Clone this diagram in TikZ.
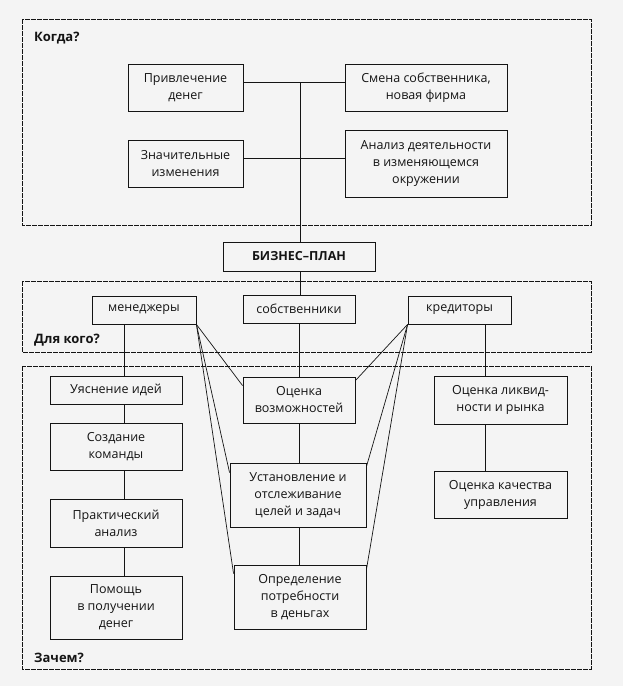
\documentclass[tikz,border=0pt]{standalone}
\usepackage{fontspec}
\setmainfont{Open Sans}
\usetikzlibrary{calc}
\definecolor{bg}{RGB}{244,244,244}
\definecolor{ink}{RGB}{20,20,20}
\tikzset{
  box/.style={draw=ink, line width=0.9pt, fill=bg, inner sep=0pt, align=center,
    font=\fontsize{12.5}{17}\selectfont, text=ink},
  frame/.style={draw=ink, line width=0.8pt, dash pattern=on 5pt off 1pt},
  link/.style={draw=ink, line width=0.9pt},
  fan/.style={draw=ink, line width=0.7pt},
  lbl/.style={font=\bfseries\fontsize{13}{15}\selectfont, text=ink, anchor=base west, inner sep=0pt}
}
\begin{document}
\begin{tikzpicture}[x=1pt,y=-1pt]
\fill[bg] (0,0) rectangle (623,686);
\useasboundingbox (0,0) rectangle (623,686);
% frames
\draw[frame] (22,19) rectangle (591,225);
\draw[frame] (22,281) rectangle (591,352);
\draw[frame] (22,366) rectangle (591,669);
\node[lbl] (l1) at (34,41) {Когда?};
\node[lbl] (l2) at (34,343) {Для кого?};
\node[lbl] (l3) at (34,662) {Зачем?};
% helper coordinates
\coordinate (h1) at (300,82);
\coordinate (h2) at (300,158);
\coordinate (lc) at (124,0);
\coordinate (rc) at (485,0);
% top boxes
\node[box, minimum width=115pt, minimum height=47pt] (priv) at (185.5,87.5) {Привлечение\\денег};
\node[box, minimum width=162pt, minimum height=47pt] (smena) at (426,87.5) {Смена собственника,\\новая фирма};
\node[box, minimum width=115pt, minimum height=47pt] (znach) at (185.5,163.5) {Значительные\\изменения};
\node[box, minimum width=162pt, minimum height=67pt] (analiz) at (426,163.5) {Анализ деятельности\\в изменяющемся\\окружении};
\node[box, minimum width=152pt, minimum height=29pt, font=\bfseries\fontsize{12.5}{15}\selectfont] (bp) at (299,256.5) {БИЗНЕС–ПЛАН};
% who
\node[box, minimum width=104pt, minimum height=28pt] (men) at (144,310) {менеджеры};
\node[box, minimum width=112pt, minimum height=28pt] (sob) at (299,309) {собственники};
\node[box, minimum width=103pt, minimum height=28pt] (kred) at (459.5,310) {кредиторы};
% why
\node[box, minimum width=132pt, minimum height=28pt] (uyas) at (116,390) {Уяснение идей};
\node[box, minimum width=132pt, minimum height=47pt] (sozd) at (116,446.5) {Создание\\команды};
\node[box, minimum width=132pt, minimum height=48pt] (prak) at (116,523) {Практический\\анализ};
\node[box, minimum width=132pt, minimum height=63pt] (pom) at (116,607.5) {Помощь\\в получении\\денег};
\node[box, minimum width=112pt, minimum height=46pt] (ocv) at (299,400) {Оценка\\возможностей};
\node[box, minimum width=136pt, minimum height=64pt] (ust) at (298,495) {Установление и\\отслеживание\\целей и задач};
\node[box, minimum width=132pt, minimum height=64pt] (opr) at (300,597) {Определение\\потребности\\в деньгах};
\node[box, minimum width=133pt, minimum height=48pt] (ocl) at (500.5,400) {Оценка ликвид-\\ности и рынка};
\node[box, minimum width=133pt, minimum height=47pt] (ock) at (500.5,494.5) {Оценка качества\\управления};
% top connectors
\draw[link] (priv.east |- h1) -- (smena.west |- h1);
\draw[link] (znach.east |- h2) -- (analiz.west |- h2);
\draw[link] (h1) -- (h1 |- bp.north);
\draw[link] (bp.south -| h1) -- (sob.north -| h1);
% middle column
\draw[link] (sob.south) -- (sob.south |- ocv.north);
\draw[link] (ocv.south) -- (ocv.south |- ust.north);
\draw[link] (ust.south -| ocv.south) -- (ocv.south |- opr.north);
% left column
\draw[link] (men.south -| lc) -- (uyas.north -| lc);
\draw[link] (uyas.south -| lc) -- (sozd.north -| lc);
\draw[link] (sozd.south -| lc) -- (prak.north -| lc);
\draw[link] (prak.south -| lc) -- (pom.north -| lc);
% right column
\draw[link] (kred.south -| rc) -- (ocl.north -| rc);
\draw[link] (ocl.south -| rc) -- (ock.north -| rc);
% fans
\draw[fan] (men.south east) -- ($(ocv.north west)+(0,9)$);
\draw[fan] (men.south east) -- ($(ust.north west)+(0,10)$);
\draw[fan] (men.south east) -- ($(opr.north west)+(0,9)$);
\draw[fan] (kred.south west) -- ($(ocv.north east)+(0,4)$);
\draw[fan] (kred.south west) -- ($(ust.north east)+(0,4)$);
\draw[fan] (kred.south west) -- ($(opr.north east)+(0,5)$);
\end{tikzpicture}
\end{document}
